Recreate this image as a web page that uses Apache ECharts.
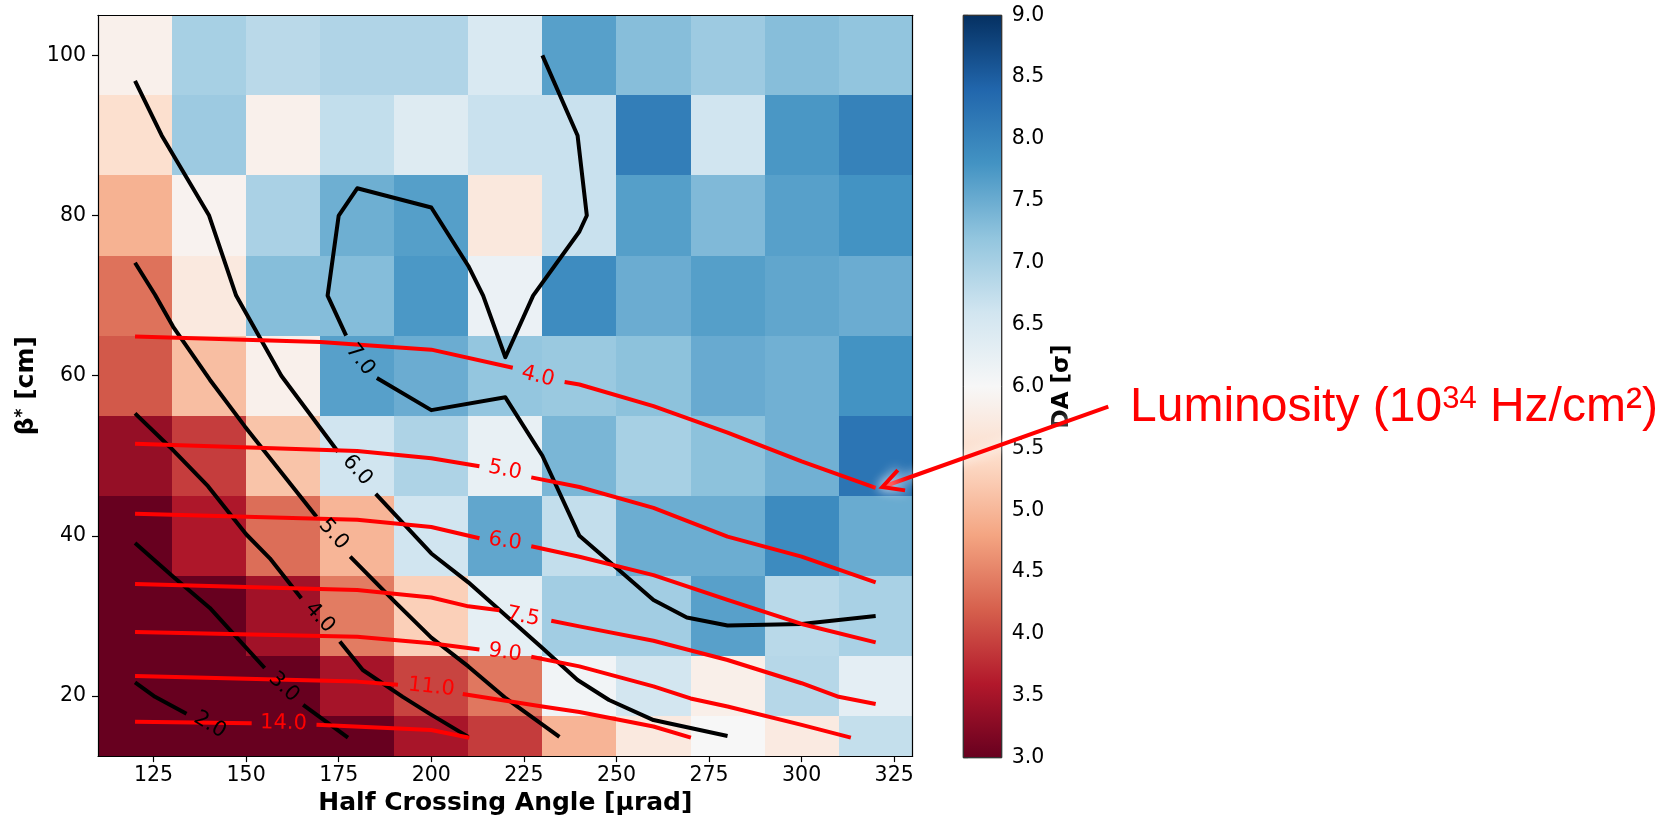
<!DOCTYPE html>
<html>
<head>
<meta charset="utf-8">
<script src="https://cdn.jsdelivr.net/npm/echarts@6/dist/echarts.min.js"></script>
<style>
  html, body { margin: 0; padding: 0; background: #ffffff; }
  #chart { width: 1666px; height: 821px; }
</style>
</head>
<body>
<div id="chart"></div>
<script>
// ---- grid of dynamic-aperture values ----
const xCenters = [120, 140, 160, 180, 200, 220, 240, 260, 280, 300, 320];   // half crossing angle [µrad]
const yCenters = [15, 20, 30, 40, 50, 60, 70, 80, 90, 100];                // beta* [cm]
// one row per beta* value (same order as yCenters), one column per crossing angle
const daRow15  = [3.00, 3.00, 3.00, 3.00, 3.52, 3.90, 4.97, 5.70, 6.00, 5.72, 6.72];
const daRow20  = [3.00, 3.00, 3.00, 3.50, 3.97, 4.40, 6.10, 6.57, 5.82, 6.86, 6.30];
const daRow30  = [3.00, 3.00, 3.46, 4.44, 5.28, 6.28, 7.05, 7.05, 7.64, 6.83, 6.98];
const daRow40  = [3.00, 3.57, 4.32, 4.98, 6.60, 7.57, 6.73, 7.49, 7.49, 7.90, 7.51];
const daRow50  = [3.37, 3.91, 5.14, 6.60, 6.93, 6.24, 7.38, 7.00, 7.24, 7.45, 8.20];
const daRow60  = [4.14, 5.08, 5.85, 7.65, 7.50, 7.18, 7.12, 7.24, 7.52, 7.45, 7.80];
const daRow70  = [4.36, 5.70, 7.29, 7.30, 7.74, 6.19, 7.89, 7.50, 7.66, 7.57, 7.50];
const daRow80  = [4.94, 5.90, 6.97, 7.47, 7.66, 5.68, 6.68, 7.66, 7.34, 7.65, 7.80];
const daRow90  = [5.50, 7.10, 5.85, 6.74, 6.40, 6.68, 6.68, 8.08, 6.60, 7.75, 8.03];
const daRow100 = [5.85, 7.00, 6.82, 6.91, 6.91, 6.47, 7.65, 7.28, 7.10, 7.28, 7.20];
const daRows = [daRow15, daRow20, daRow30, daRow40, daRow50, daRow60, daRow70, daRow80, daRow90, daRow100];

// ---- axis ticks ----
const xTicks = [125, 150, 175, 200, 225, 250, 275, 300, 325];
const yTicks = [20, 40, 60, 80, 100];
const daRange = [3, 9];
const daTickStep = 0.5;

// ---- DA iso-lines (black), each a list of pieces broken around the inline label ----
const daIso2 = [[[120, 21.7], [125.4, 19.9], [133.9, 17.8]]];
const daIso3 = [[[120, 39.1], [130.3, 34.9], [140.2, 31.0], [145.6, 28.25], [155.0, 23.5]],
                [[165.4, 18.9], [177.5, 14.8]]];
const daIso4 = [[[120, 55.3], [129.4, 51.1], [139.7, 46.2], [150.0, 40.2], [156.4, 37.2], [164.9, 32.2]],
                [[175.3, 26.8], [181.5, 23.25], [192.3, 19.9], [199.5, 17.8], [210.0, 14.9]]];
const daIso5 = [[[120, 74.1], [125.4, 70.1], [130.3, 66.1], [140.2, 59.5], [149.6, 53.7], [169.0, 42.4]],
                [[178.1, 37.4], [190.1, 31.8], [200.0, 27.3], [210.0, 23.7], [220.2, 19.7], [234.6, 14.9]]];
const daIso6 = [[[120, 96.8], [127.2, 90.0], [140.0, 80.0], [147.3, 70.0], [159.5, 60.0], [174.8, 50.5]],
                [[185.0, 45.25], [200.0, 37.8], [210.0, 34.2], [219.5, 30.3], [230.0, 26.0], [239.5, 22.0],
                 [248.0, 19.5], [260.0, 17.0], [280.0, 15.0]]];
const daIso7 = [[[230, 100], [239.5, 90], [242, 80], [240, 78], [227.5, 70], [220, 62.3], [214, 70],
                 [210, 73.7], [200, 81], [180, 83.4], [175, 80], [172, 70], [177, 65]],
                [[185.3, 59.7], [200, 55.7], [220, 57.3], [230, 50], [240, 40], [249.5, 36.2],
                 [260, 32], [269, 29.8], [280, 28.8], [300, 29], [320, 30]]];
const daIsoLines = [daIso2, daIso3, daIso4, daIso5, daIso6, daIso7];
const daIsoText = ['2.0', '3.0', '4.0', '5.0', '6.0', '7.0'];
const daIsoTextAt = [[140.2, 16.4], [160.2, 21.1], [169.9, 29.8], [173.6, 40.2], [180.0, 48.2], [180.8, 62.0]];
const daIsoTextTilt = [-31, -43, -47, -48, -48, -52];

// ---- luminosity iso-lines (red) ----
const lumIso4  = [[[120, 64.9], [170, 64.2], [200, 63.25], [222, 61.0]],
                  [[236, 59.2], [240, 58.9], [260, 56.2], [280, 52.9], [300, 49.3], [320, 46.0]]];
const lumIso5  = [[[120, 51.5], [180, 50.6], [200, 49.7], [213, 48.7]],
                  [[227, 47.3], [240, 46.1], [260, 43.5], [280, 39.9], [300, 37.4], [320, 34.2]]];
const lumIso6  = [[[120, 42.75], [180, 42.0], [200, 41.1], [213, 39.7]],
                  [[227, 38.7], [240, 37.4], [260, 35.1], [280, 32.0], [300, 29.0], [320, 26.7]]];
const lumIso75 = [[[120, 34.0], [180, 33.25], [200, 32.3], [210, 31.2], [218.4, 30.7]],
                  [[232.4, 29.4], [240, 28.7], [260, 26.9], [280, 24.5], [300, 21.6], [310, 19.9], [320, 19.0]]];
const lumIso9  = [[[120, 28.0], [180, 27.4], [200, 26.6], [213, 25.8]],
                  [[227, 24.9], [240, 23.7], [260, 21.2], [270, 19.7], [280, 18.7], [300, 16.4], [313.3, 14.8]]];
const lumIso11 = [[[120, 22.5], [180, 21.8], [191, 21.4]],
                  [[208.5, 20.25], [230, 18.7], [240, 18.0], [260, 16.2], [270.1, 14.8]]];
const lumIso14 = [[[120, 16.8], [151.5, 16.6]],
                  [[169, 16.4], [200, 15.75], [210.3, 14.8]]];
const lumIsoLines = [lumIso4, lumIso5, lumIso6, lumIso75, lumIso9, lumIso11, lumIso14];
const lumIsoText = ['4.0', '5.0', '6.0', '7.5', '9.0', '11.0', '14.0'];
const lumIsoTextAt = [[228.8, 59.9], [219.9, 48.2], [219.9, 39.3], [224.8, 29.9], [219.9, 25.4], [200.0, 21.1], [160.1, 16.6]];
const lumIsoTextTilt = [-14, -11, -8, -11, -8, -6, -1];

// point the annotation arrow lands on (end of the 4.0 luminosity line)
const lumArrowTarget = [321.8, 46.1];

// RdBu colour map
const rdbu = ['#67001f', '#b2182b', '#d6604d', '#f4a582', '#fddbc7', '#f7f7f7',
              '#d1e5f0', '#92c5de', '#4393c3', '#2166ac', '#053061'];

// ---- helpers ----
function edgesFrom(c) {
  const e = [c[0] - (c[1] - c[0]) / 2];
  for (let i = 0; i < c.length - 1; i++) e.push((c[i] + c[i + 1]) / 2);
  e.push(c[c.length - 1] + (c[c.length - 1] - c[c.length - 2]) / 2);
  return e;
}
const xEdges = edgesFrom(xCenters);
const yEdges = edgesFrom(yCenters);

const cells = [];
yCenters.forEach((yc, j) => {
  xCenters.forEach((xc, i) => {
    cells.push([xc, yc, daRows[j][i], xEdges[i], xEdges[i + 1], yEdges[j], yEdges[j + 1]]);
  });
});

const FONT = '"DejaVu Sans", sans-serif';
const chart = echarts.init(document.getElementById('chart'), null, { renderer: 'canvas' });

function isoSeries(lines, color, z) {
  const out = [];
  lines.forEach(pieces => pieces.forEach(seg => out.push({
    type: 'line', xAxisIndex: 0, yAxisIndex: 0, data: seg,
    symbol: 'none', silent: true, animation: false, z: z,
    lineStyle: { color: color, width: 4, cap: 'butt', join: 'round' },
    emphasis: { disabled: true }
  })));
  return out;
}

function textSeries(texts, at, tilt, color) {
  return {
    type: 'custom', xAxisIndex: 0, yAxisIndex: 0, silent: true, animation: false, z: 6,
    data: at.map((p, i) => [p[0], p[1], i]),
    renderItem: (params, api) => {
      const i = api.value(2);
      const p = api.coord([api.value(0), api.value(1)]);
      return {
        type: 'text', x: p[0], y: p[1], rotation: tilt[i] * Math.PI / 180,
        style: { text: texts[i], fill: color, font: '21px ' + FONT, align: 'center', verticalAlign: 'middle' }
      };
    }
  };
}

const axisText = { color: '#000', fontFamily: FONT, fontSize: 20.5 };

const option = {
  backgroundColor: '#ffffff',
  animation: false,
  grid: [
    { left: 98, top: 15.3, width: 814.7, height: 742.4, containLabel: false },
    { left: 963.3, top: 15.3, width: 38.4, height: 742.4, containLabel: false }
  ],
  xAxis: [
    {
      gridIndex: 0, type: 'value', min: xEdges[0], max: xEdges[xEdges.length - 1], position: 'bottom', z: 8,
      axisLine: { show: true, onZero: false, lineStyle: { color: '#000', width: 1.2 } },
      axisTick: { show: true, length: 6, customValues: xTicks, lineStyle: { color: '#000', width: 1.2 } },
      axisLabel: Object.assign({ margin: 9, customValues: xTicks }, axisText),
      splitLine: { show: false },
      name: 'Half Crossing Angle [µrad]', nameLocation: 'middle', nameGap: 34,
      nameTextStyle: { color: '#000', fontFamily: FONT, fontWeight: 'bold', fontSize: 25 }
    },
    {
      gridIndex: 0, type: 'value', min: xEdges[0], max: xEdges[xEdges.length - 1], position: 'top', z: 8,
      axisLine: { show: true, onZero: false, lineStyle: { color: '#000', width: 1.2 } },
      axisTick: { show: false }, axisLabel: { show: false }, splitLine: { show: false }
    },
    { gridIndex: 1, type: 'value', min: 0, max: 1, show: false }
  ],
  yAxis: [
    {
      gridIndex: 0, type: 'value', min: yEdges[0], max: yEdges[yEdges.length - 1], position: 'left', z: 8,
      axisLine: { show: true, onZero: false, lineStyle: { color: '#000', width: 1.2 } },
      axisTick: { show: true, length: 6, customValues: yTicks, lineStyle: { color: '#000', width: 1.2 } },
      axisLabel: Object.assign({ margin: 12, customValues: yTicks }, axisText),
      splitLine: { show: false },
      name: 'β{s|*} [cm]', nameLocation: 'middle', nameGap: 59,
      nameTextStyle: {
        color: '#000', fontFamily: FONT, fontWeight: 'bold', fontSize: 25,
        rich: { s: { fontFamily: FONT, fontWeight: 'bold', fontSize: 17, verticalAlign: 'top', color: '#000' } }
      }
    },
    {
      gridIndex: 0, type: 'value', min: yEdges[0], max: yEdges[yEdges.length - 1], position: 'right', z: 8,
      axisLine: { show: true, onZero: false, lineStyle: { color: '#000', width: 1.2 } },
      axisTick: { show: false }, axisLabel: { show: false }, splitLine: { show: false }
    },
    {
      gridIndex: 1, type: 'value', min: daRange[0], max: daRange[1], interval: daTickStep, position: 'right',
      axisLine: { show: false },
      axisTick: { show: true, length: 5, lineStyle: { color: '#000', width: 1.2 } },
      axisLabel: Object.assign({ margin: 10, formatter: v => v.toFixed(1) }, axisText),
      splitLine: { show: false },
      name: 'DA [σ]', nameLocation: 'middle', nameGap: 49,
      nameTextStyle: { color: '#000', fontFamily: FONT, fontWeight: 'bold', fontSize: 23 }
    }
  ],
  visualMap: {
    type: 'continuous', show: false, min: daRange[0], max: daRange[1], dimension: 2, seriesIndex: 0,
    inRange: { color: rdbu }
  },
  series: [
    {
      type: 'custom', xAxisIndex: 0, yAxisIndex: 0, silent: true, animation: false, z: 1,
      dimensions: ['x', 'y', 'da', 'x0', 'x1', 'y0', 'y1'],
      encode: { x: 0, y: 1 },
      data: cells,
      renderItem: (params, api) => {
        const a = api.coord([api.value(3), api.value(6)]);
        const b = api.coord([api.value(4), api.value(5)]);
        const l = Math.round(a[0]), t = Math.round(a[1]);
        const r = Math.round(b[0]), btm = Math.round(b[1]);
        return { type: 'rect', shape: { x: l, y: t, width: r - l, height: btm - t },
                 style: { fill: api.visual('color') } };
      }
    },
    {
      type: 'custom', xAxisIndex: 2, yAxisIndex: 2, silent: true, animation: false, z: 1,
      data: [[0, daRange[0]], [1, daRange[1]]],
      renderItem: (params, api) => {
        if (params.dataIndex !== 0) return null;
        const a = api.coord([0, daRange[1]]);
        const b = api.coord([1, daRange[0]]);
        return {
          type: 'rect', shape: { x: a[0], y: a[1], width: b[0] - a[0], height: b[1] - a[1] },
          style: {
            fill: new echarts.graphic.LinearGradient(0, 1, 0, 0,
              rdbu.map((c, i) => ({ offset: i / (rdbu.length - 1), color: c }))),
            stroke: '#333', lineWidth: 1
          }
        };
      }
    }
  ]
    .concat(isoSeries(daIsoLines, '#000000', 3))
    .concat(isoSeries(lumIsoLines, '#ff0000', 4))
    .concat([textSeries(daIsoText, daIsoTextAt, daIsoTextTilt, '#000000'),
             textSeries(lumIsoText, lumIsoTextAt, lumIsoTextTilt, '#ff0000')])
};

chart.setOption(option);

// ---- annotation: label with arrow onto the luminosity line ----
const tip = chart.convertToPixel({ gridIndex: 0 }, lumArrowTarget);
const tail = [1108.3, 406.7];
const dx = tail[0] - tip[0], dy = tail[1] - tip[1];
const len = Math.hypot(dx, dy);
const ux = dx / len, uy = dy / len;
const barb = 23, spread = 28 * Math.PI / 180;
function rot(vx, vy, a) { return [vx * Math.cos(a) - vy * Math.sin(a), vx * Math.sin(a) + vy * Math.cos(a)]; }
const b1 = rot(ux, uy, spread), b2 = rot(ux, uy, -spread);
const arrowStyle = { stroke: '#ff0000', lineWidth: 4, lineCap: 'butt', lineJoin: 'miter',
                     shadowBlur: 12, shadowColor: 'rgba(255,255,255,0.95)', fill: null };

chart.setOption({
  graphic: [
    {
      type: 'line', z: 50, silent: true,
      shape: { x1: tail[0], y1: tail[1], x2: tip[0], y2: tip[1] },
      style: arrowStyle
    },
    {
      type: 'polyline', z: 51, silent: true,
      shape: { points: [[tip[0] + b1[0] * barb, tip[1] + b1[1] * barb], tip,
                        [tip[0] + b2[0] * barb, tip[1] + b2[1] * barb]] },
      style: arrowStyle
    },
    {
      type: 'text', z: 52, silent: true, x: 1130, y: 408,
      style: {
        text: '{a|Luminosity (10}{s|34}{a| Hz/cm²)}',
        align: 'left', verticalAlign: 'middle',
        rich: {
          a: { fontFamily: '"Liberation Sans", Arial, sans-serif', fontSize: 48, fill: '#ff0000', color: '#ff0000' },
          s: { fontFamily: '"Liberation Sans", Arial, sans-serif', fontSize: 31, fill: '#ff0000', color: '#ff0000', verticalAlign: 'top' }
        }
      }
    }
  ]
});
</script>
</body>
</html>
